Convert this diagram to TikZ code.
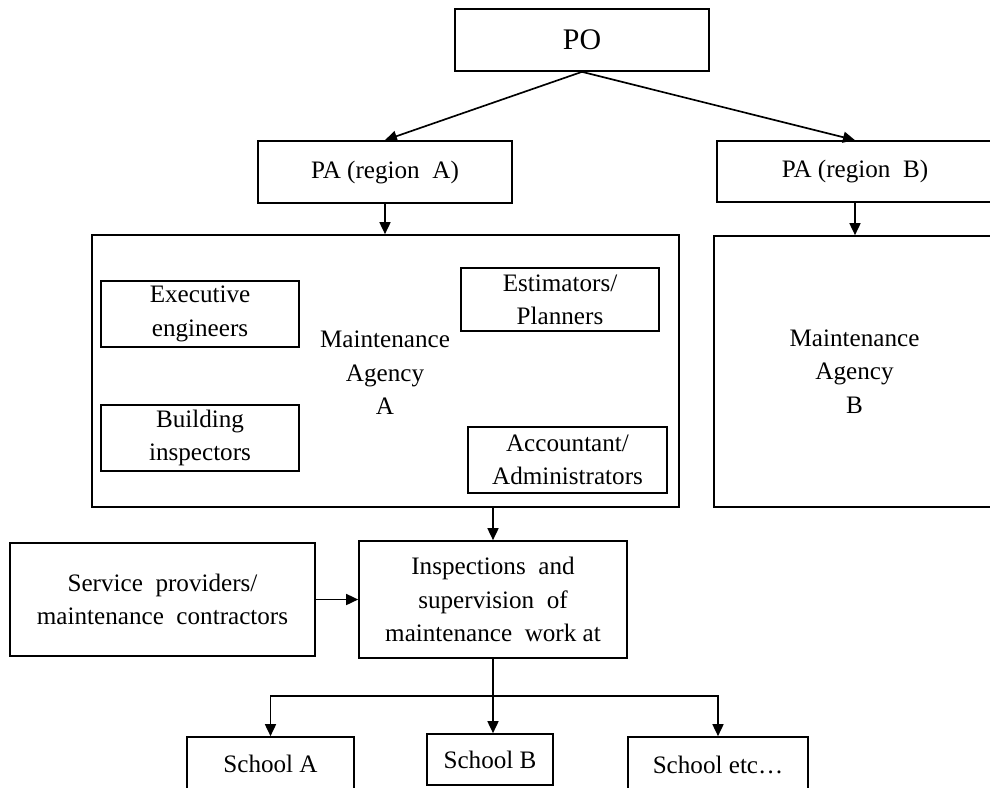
\documentclass[tikz,border=0pt]{standalone}
\usepackage{fontspec}
\setmainfont{Liberation Serif}
\usetikzlibrary{arrows.meta}
\begin{document}
\begin{tikzpicture}[x=0.2mm,y=-0.2mm,
  line width=0.95pt,
  every node/.style={font=\fontsize{14.3}{19}\selectfont, align=center, inner sep=0pt},
  box/.style 2 args={draw, rectangle, minimum width=#1*0.2mm, minimum height=#2*0.2mm},
  arr/.style={-{Triangle[length=2.4mm,width=2.2mm]}}]
\useasboundingbox (0,0) rectangle (990,787);
\clip (0,0) rectangle (990,787);

% top level
\node[box={254}{62}, font=\fontsize{17}{20}\selectfont] (po) at (582,40) {PO};
\node[box={254}{62}] (paA) at (385,172) {PA (region\ \ A)};
\node[box={276}{61}] (paB) at (855,171.5) {PA (region\ \ B)};

% maintenance agencies
\node[box={587}{272}] (maA) at (385.5,371) {};
\node (maAt) at (385,373) {Maintenance\\Agency\\A};
\node[box={281}{271}] (maB) at (854.5,371.5) {Maintenance\\Agency\\B};

% staff inside agency A
\node[box={198}{66}] (exe) at (200,314) {Executive\\engineers};
\node[box={198}{66}] (bld) at (200,438) {Building\\inspectors};
\node[box={198}{63}] (est) at (560,299.5) {Estimators/\\Planners};
\node[box={199}{66}] (acc) at (567.5,460) {Accountant/\\Administrators};

% inspections
\node[box={305}{113}] (svc) at (162.5,599.5) {Service\ \ providers/\\maintenance\ \ contractors};
\node[box={268}{117}] (ins) at (493,599.5) {Inspections\ \ and\\supervision\ \ of\\maintenance\ \ work at};

% schools
\node[box={167}{53}] (scA) at (270.5,763.5) {School A};
\node[box={126}{51}] (scB) at (490,759.5) {School B};
\node[box={180}{56}] (scC) at (718,765) {School etc\ldots};

% connectors
\draw[arr] (po.south) -- (paA.north);
\draw[arr] (po.south) -- (paB.north);
\draw[arr] (paA.south) -- (maA.north -| paA.south);
\draw[arr] (paB.south) -- (maB.north -| paB.south);
\draw[arr] (maA.south -| ins.north) -- (ins.north);
\draw[arr] (svc.east) -- (ins.west);
\coordinate (j) at (493,696);
\draw (ins.south) -- (j);
\draw[arr] (j) -| (scA.north);
\draw[arr] (j) -- (scB.north -| j);
\draw[arr] (j) -| (scC.north);
\end{tikzpicture}
\end{document}
